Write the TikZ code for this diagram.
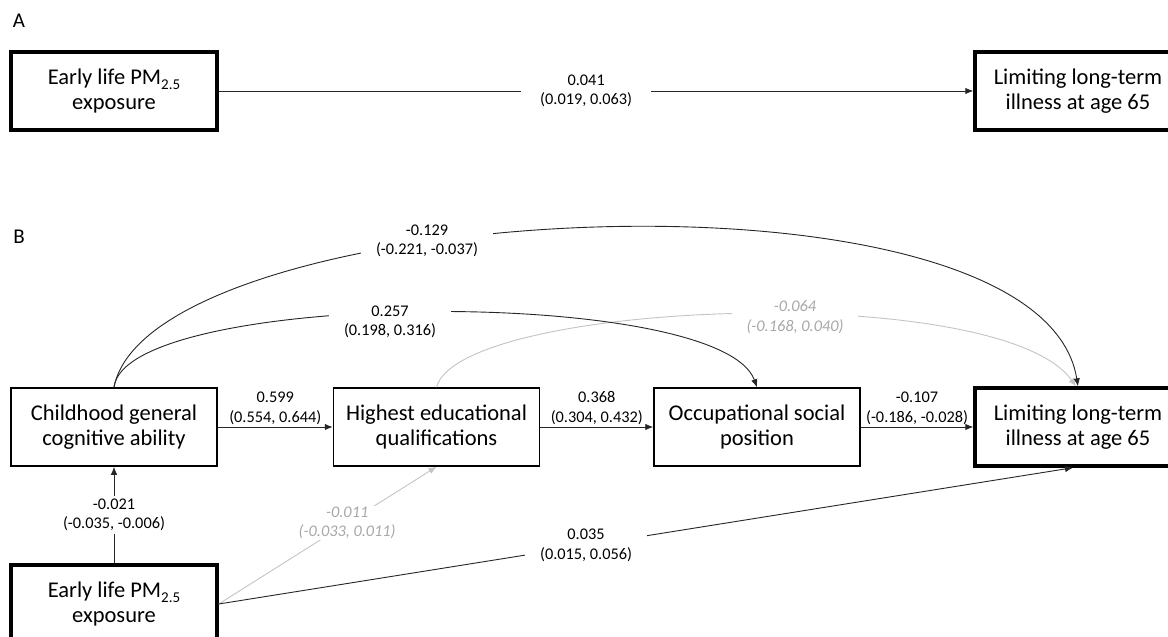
\documentclass[tikz,border=0pt]{standalone}
\usepackage{fontspec}
\setmainfont{Carlito}
\usetikzlibrary{arrows.meta,calc}
\definecolor{glight}{RGB}{196,196,196}
\definecolor{gtext}{RGB}{168,168,168}
\newcommand{\pmsub}{PM{\fontsize{15}{15}\selectfont\raisebox{-5pt}{2.5}}}
\begin{document}
\begin{tikzpicture}[x=1pt,y=-1pt,
  box/.style={draw=black, line width=1.5pt, minimum width=206pt, minimum height=78pt,
    align=center, inner sep=0pt, font=\fontsize{22.5}{25.5}\selectfont},
  thickbox/.style={box, line width=3.4pt},
  slab/.style={font=\fontsize{16.3}{19.5}\selectfont, align=center, inner sep=2pt},
  lab/.style={slab, fill=white, inner xsep=15pt, inner ysep=2pt},
  glab/.style={lab, text=gtext, font=\fontsize{16.3}{19.5}\selectfont\itshape},
  panel/.style={font=\fontsize{21}{21}\selectfont, inner sep=0pt},
  arr/.style={draw=black!85, line width=0.9pt, -{Latex[length=8pt,width=6.5pt]}},
  garr/.style={arr, draw=glight, -{Latex[length=8pt,width=6.5pt,color=glight]}},
]
\clip (0,0) rectangle (1168,637);
\fill[white] (0,0) rectangle (1168,637);

% Panel A
\node[panel] (labA) at (19,21) {A};
\node[thickbox] (pmA) at (114,91) {Early life \pmsub\\exposure};
\node[thickbox] (llA) at (1078,91) {Limiting long-term\\illness at age 65};
\draw[arr] (pmA) -- node[lab, pos=0.487, inner xsep=19pt] (eA) {0.041\\(0.019, 0.063)} (llA);

% Panel B
\node[panel] (labB) at (19,237) {B};
\node[box] (cg) at (114,427) {Childhood general\\cognitive ability};
\node[box] (he) at (436.5,427) {Highest educational\\qualifications};
\node[box] (osp) at (757,427) {Occupational social\\position};
\node[thickbox] (llB) at (1078,427) {Limiting long-term\\illness at age 65};
\node[thickbox] (pmB) at (114,604) {Early life \pmsub\\exposure};

% straight connectors
\draw[arr] (cg) -- node[slab, above] (e1) {0.599\\(0.554, 0.644)} (he);
\draw[arr] (he) -- node[slab, above] (e2) {0.368\\(0.304, 0.432)} (osp);
\draw[arr] (osp) -- node[slab, above] (e3) {-0.107\\(-0.186, -0.028)} (llB);
\draw[arr] (pmB) -- node[lab, pos=0.5, inner xsep=2pt, inner ysep=3pt] (e4) {-0.021\\(-0.035, -0.006)} (cg);
\draw[garr] (pmB.east) -- node[glab, pos=0.59, inner sep=1pt] (e5) {-0.011\\(-0.033, 0.011)} (he.south);
\draw[arr] (pmB.east) -- node[lab, pos=0.43] (e6) {0.035\\(0.015, 0.056)} ([xshift=-5pt]llB.south);

% curved connectors
\draw[garr] (he.north) .. controls (460,300) and (1000,280) .. ([xshift=-2pt]llB.north);
\draw[arr] (cg.north) .. controls (125,290) and (720,285) .. (osp.north);
\draw[arr] (cg.north) .. controls (150,200) and (1040,150) .. (llB.north);

\node[glab] (e7) at (795,317) {-0.064\\(-0.168, 0.040)};
\node[lab] (e8) at (390,322) {0.257\\(0.198, 0.316)};
\node[lab] (e9) at (427,241) {-0.129\\(-0.221, -0.037)};
\end{tikzpicture}
\end{document}
